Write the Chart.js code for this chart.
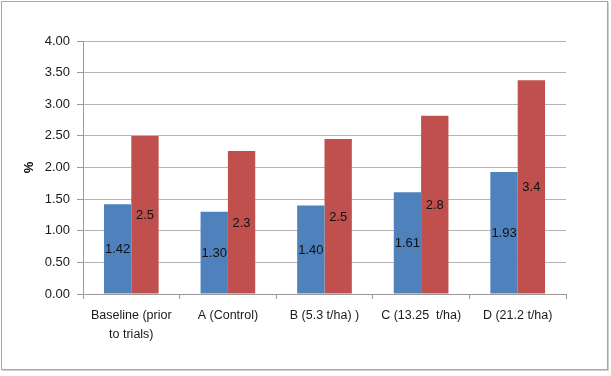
<!DOCTYPE html>
<html>
<head>
<meta charset="utf-8">
<script src="https://cdn.jsdelivr.net/npm/chart.js@4/dist/chart.umd.min.js"></script>
<style>
  html, body { margin: 0; padding: 0; background: #fff; }
  #wrap { width: 611px; height: 376px; position: relative; }
</style>
</head>
<body>
<div id="wrap"><canvas id="c" width="611" height="376"></canvas></div>
<script>
const categories = [["Baseline (prior", "to trials)"], "A (Control)", "B (5.3 t/ha) )", "C (13.25  t/ha)", "D (21.2 t/ha)"];
const seriesBlue = [1.42, 1.30, 1.40, 1.61, 1.93];
const seriesRed = [2.50, 2.26, 2.45, 2.82, 3.38];
const blueDecimals = 2;
const redDecimals = 1;
const yTicks = [0, 0.5, 1, 1.5, 2, 2.5, 3, 3.5, 4];

const FONT = "'Liberation Sans', Arial, sans-serif";

const framePlugin = {
  id: 'frame',
  beforeDraw(chart) {
    const ctx = chart.ctx;
    ctx.save();
    ctx.fillStyle = '#ffffff';
    ctx.fillRect(0, 0, chart.width, chart.height);
    ctx.strokeStyle = '#a6a6a6';
    ctx.lineWidth = 1;
    ctx.strokeRect(1.5, 1.5, 606, 368);
    ctx.strokeStyle = '#d0d0d0';
    ctx.beginPath();
    ctx.moveTo(608.5, 2); ctx.lineTo(608.5, 371);
    ctx.moveTo(2, 370.5); ctx.lineTo(609, 370.5);
    ctx.stroke();
    ctx.restore();
  }
};

const labelPlugin = {
  id: 'barLabels',
  afterDatasetsDraw(chart) {
    const ctx = chart.ctx;
    ctx.save();
    ctx.font = '13px ' + FONT;
    ctx.fillStyle = '#111111';
    ctx.textAlign = 'center';
    ctx.textBaseline = 'middle';
    chart.data.datasets.forEach((ds, di) => {
      const meta = chart.getDatasetMeta(di);
      meta.data.forEach((bar, i) => {
        const p = bar.getProps(['x', 'y', 'base'], true);
        const txt = Number(ds.data[i]).toFixed(ds.decimals);
        ctx.fillText(txt, p.x, (p.y + p.base) / 2 + 1);
      });
    });
    ctx.restore();
  }
};

new Chart(document.getElementById('c'), {
  type: 'bar',
  data: {
    labels: categories,
    datasets: [
      { label: 'Series 1', data: seriesBlue, decimals: blueDecimals, backgroundColor: '#4f81bd', borderWidth: 0,
        categoryPercentage: 0.566, barPercentage: 1.0 },
      { label: 'Series 2', data: seriesRed, decimals: redDecimals, backgroundColor: '#c0504d', borderWidth: 0,
        categoryPercentage: 0.566, barPercentage: 1.0 }
    ]
  },
  options: {
    responsive: false,
    animation: false,
    devicePixelRatio: 1,
    layout: { padding: { top: 41, right: 45, left: 0, bottom: 0 } },
    plugins: {
      legend: { display: false },
      tooltip: { enabled: false }
    },
    scales: {
      x: {
        grid: { display: true, drawOnChartArea: false, drawTicks: true, tickLength: 5, color: '#9a9a9a', offset: true },
        border: { display: true, color: '#9a9a9a' },
        ticks: { color: '#1a1a1a', font: { family: FONT, size: 12.5, lineHeight: 1.5 }, padding: 7, maxRotation: 0, autoSkip: false },
        afterFit(scale) { scale.height = 82; }
      },
      y: {
        min: 0, max: 4,
        afterBuildTicks(scale) { scale.ticks = yTicks.map(v => ({ value: v })); },
        grid: { color: '#b5b5b5', lineWidth: 1, drawTicks: true, tickLength: 6, tickColor: '#9a9a9a' },
        border: { display: true, color: '#9a9a9a' },
        ticks: { color: '#1a1a1a', font: { family: FONT, size: 13 }, padding: 7,
                 callback: (v) => Number(v).toFixed(2) },
        title: { display: true, text: '%', color: '#000', font: { family: FONT, size: 13, weight: 'bold' }, padding: { top: 22, bottom: 0 } },
        afterFit(scale) { scale.width = 83; }
      }
    }
  },
  plugins: [framePlugin, labelPlugin]
});
</script>
</body>
</html>
